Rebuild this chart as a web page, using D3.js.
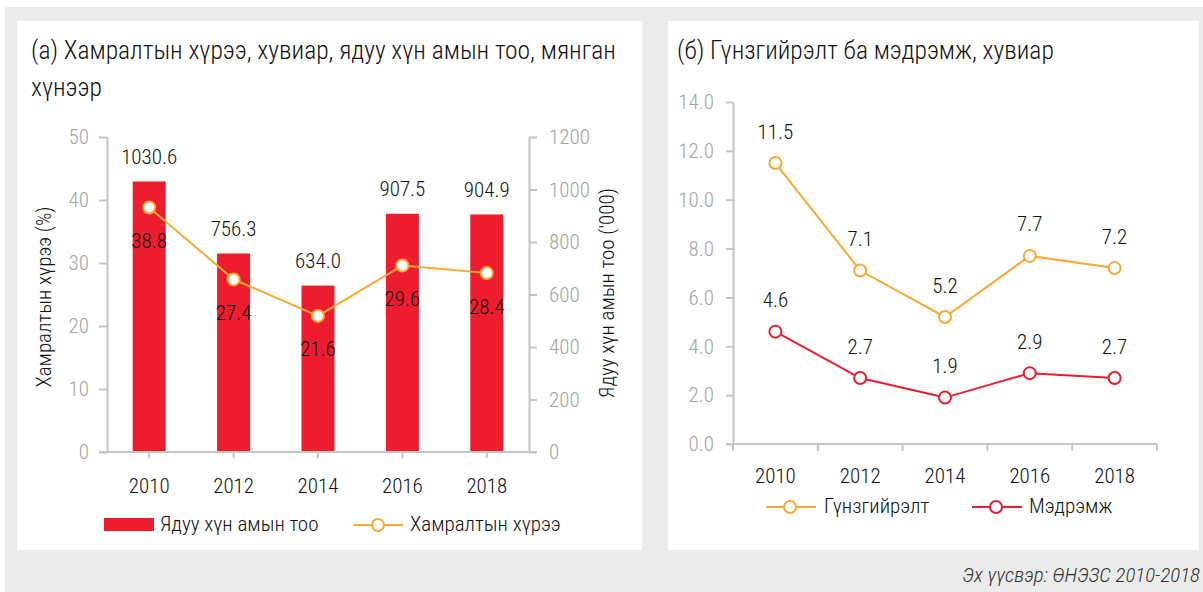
<!DOCTYPE html>
<html>
<head>
<meta charset="utf-8">
<script src="https://cdn.jsdelivr.net/npm/d3@7"></script>
<style>
    body { margin: 0; background: #fff; }
    svg { display: block; }
    text { font-family: "Roboto", sans-serif; font-stretch: 75%; font-weight: 300; }
</style>
</head>
<body>
<div id="chart"></div>
<script>
const [WIDTH, HEIGHT] = [1203, 592];

const years = ['2010', '2012', '2014', '2016', '2018'];
const poorPopulation = [1030.6, 756.3, 634.0, 907.5, 904.9];   // мянган хүн
const povertyRate = [38.8, 27.4, 21.6, 29.6, 28.4];           // %
const povertyGap = [11.5, 7.1, 5.2, 7.7, 7.2];                // гүнзгийрэлт
const povertySeverity = [4.6, 2.7, 1.9, 2.9, 2.7];            // мэдрэмж
const rateTicks = [0, 10, 20, 30, 40, 50];
const popTicks = [0, 200, 400, 600, 800, 1000, 1200];
const gapTicks = [0, 2, 4, 6, 8, 10, 12, 14];

const COLORS = {
    bar: '#ed1c2e',
    orange: '#f8a935',
    red: '#ea1d2c',
    axis: '#c4c4c4',
    tickText: '#a3a3a3',
    text: '#111',
    panelBg: '#ebebeb',
}

const TITLE_SIZE = 25.5;
const LABEL_SIZE = 21;

const fmt = d3.format('.1f');

const svg = d3.select('#chart').append('svg')
    .attr('width', WIDTH)
    .attr('height', HEIGHT)

// background and panels
svg.append('rect').attr('x', 5).attr('y', 7).attr('width', WIDTH - 5).attr('height', HEIGHT - 7)
    .attr('fill', COLORS.panelBg)
svg.append('rect').attr('x', 17).attr('y', 21).attr('width', 625).attr('height', 529).attr('fill', '#fff')
svg.append('rect').attr('x', 668).attr('y', 21).attr('width', 531).attr('height', 529).attr('fill', '#fff')

function styleAxis(g) {
    g.selectAll('path.domain').attr('stroke', COLORS.axis).attr('stroke-width', 2)
    g.selectAll('.tick line').attr('stroke', COLORS.axis).attr('stroke-width', 2)
    g.selectAll('.tick text').attr('fill', COLORS.tickText).attr('font-size', LABEL_SIZE)
    g.attr('font-family', null).attr('font-size', null)
}

function marker(g, x, y, color) {
    g.append('circle')
        .attr('cx', x).attr('cy', y).attr('r', 6)
        .attr('fill', '#fff')
        .attr('stroke', color)
        .attr('stroke-width', 2)
}

function label(g, x, y, txt, size, anchor) {
    return g.append('text')
        .attr('x', x).attr('y', y)
        .attr('text-anchor', anchor || 'start')
        .attr('dominant-baseline', 'middle')
        .attr('font-size', size || LABEL_SIZE)
        .attr('fill', COLORS.text)
        .text(txt)
}

// ---------- (a) left chart ----------
const left = svg.append('g');

label(left, 31, 52, '(а) Хамралтын хүрээ, хувиар, ядуу хүн амын тоо, мянган', TITLE_SIZE)
label(left, 31, 89, 'хүнээр', TITLE_SIZE)

const xA = d3.scaleBand().domain(years).range([107, 529]);
const yRate = d3.scaleLinear().domain([0, 50]).range([452, 137]);
const yPop = d3.scaleLinear().domain([0, 1200]).range([452, 137]);
const barW = 33;

// bars
left.selectAll('.bar')
    .data(years)
    .enter()
    .append('rect')
    .attr('class', 'bar')
    .attr('x', (d) => xA(d) + xA.bandwidth() / 2 - barW / 2)
    .attr('y', (d, i) => yPop(poorPopulation[i]))
    .attr('width', barW)
    .attr('height', (d, i) => yPop(0) - yPop(poorPopulation[i]))
    .attr('fill', COLORS.bar)

poorPopulation.forEach((v, i) => {
    label(left, xA(years[i]) + xA.bandwidth() / 2, yPop(v) - 23, fmt(v), LABEL_SIZE, 'middle')
})

// axes
left.append('g')
    .attr('transform', 'translate(107,0)')
    .call(d3.axisLeft(yRate).tickValues(rateTicks).tickSize(8).tickPadding(10).tickSizeOuter(0))
    .call(styleAxis)

left.append('g')
    .attr('transform', 'translate(529,0)')
    .call(d3.axisRight(yPop).tickValues(popTicks).tickFormat(d3.format('d'))
        .tickSize(8).tickPadding(12).tickSizeOuter(0))
    .call(styleAxis)

const xAxisA = left.append('g')
    .attr('transform', 'translate(0,452)')
    .call(d3.axisBottom(xA).tickSize(6).tickPadding(20).tickSizeOuter(0))
    .call(styleAxis)
xAxisA.select('path.domain').remove()
xAxisA.selectAll('.tick text').attr('fill', COLORS.text)
xAxisA.append('line')
    .attr('x1', xA.range()[0] - 8).attr('x2', xA.range()[1] + 8)
    .attr('stroke', COLORS.axis).attr('stroke-width', 2)

// poverty rate line
const lineA = d3.line()
    .x((d, i) => xA(years[i]) + xA.bandwidth() / 2)
    .y((d) => yRate(d))

left.append('path')
    .datum(povertyRate)
    .attr('d', lineA)
    .attr('fill', 'none')
    .attr('stroke', COLORS.orange)
    .attr('stroke-width', 2)

povertyRate.forEach((v, i) => {
    const cx = xA(years[i]) + xA.bandwidth() / 2;
    marker(left, cx, yRate(v), COLORS.orange);
    label(left, cx, yRate(v) + 35, fmt(v), LABEL_SIZE, 'middle')
})

// axis titles
label(left, 0, 0, 'Хамралтын хүрээ (%)', LABEL_SIZE, 'middle')
    .attr('transform', 'translate(45,297) rotate(-90)')
label(left, 0, 0, "Ядуу хүн амын тоо ('000)", LABEL_SIZE, 'middle')
    .attr('transform', 'translate(608,293) rotate(-90)')

// legend
left.append('rect').attr('x', 104).attr('y', 518).attr('width', 50).attr('height', 13).attr('fill', COLORS.bar)
label(left, 160, 525, 'Ядуу хүн амын тоо')
left.append('line').attr('x1', 354).attr('x2', 403).attr('y1', 525).attr('y2', 525)
    .attr('stroke', COLORS.orange).attr('stroke-width', 2)
marker(left, 378, 525, COLORS.orange)
label(left, 410, 525, 'Хамралтын хүрээ')

// ---------- (б) right chart ----------
const right = svg.append('g');

label(right, 677, 52, '(б) Гүнзгийрэлт ба мэдрэмж, хувиар', TITLE_SIZE)

const xB = d3.scaleBand().domain(years).range([733, 1157]);
const yB = d3.scaleLinear().domain([0, 14]).range([444, 102]);

right.append('g')
    .attr('transform', 'translate(733,0)')
    .call(d3.axisLeft(yB).tickValues(gapTicks).tickFormat(d3.format('.1f'))
        .tickSize(7).tickPadding(12).tickSizeOuter(0))
    .call(styleAxis)

const xAxisB = right.append('g')
    .attr('transform', 'translate(0,444)')
    .call(d3.axisBottom(xB).tickSize(0).tickPadding(24))
    .call(styleAxis)
xAxisB.select('path.domain').remove()
xAxisB.selectAll('.tick text').attr('fill', COLORS.text)
xAxisB.append('line')
    .attr('x1', xB.range()[0] - 7).attr('x2', xB.range()[1])
    .attr('stroke', COLORS.axis).attr('stroke-width', 2)
xAxisB.selectAll('.edge-tick')
    .data(years.map((d) => xB(d)).concat([xB.range()[1]]))
    .enter()
    .append('line')
    .attr('x1', (d) => d).attr('x2', (d) => d)
    .attr('y1', 0).attr('y2', 7)
    .attr('stroke', COLORS.axis).attr('stroke-width', 2)

const lineB = d3.line()
    .x((d, i) => xB(years[i]) + xB.bandwidth() / 2)
    .y((d) => yB(d))

function drawSeries(values, color) {
    right.append('path')
        .datum(values)
        .attr('d', lineB)
        .attr('fill', 'none')
        .attr('stroke', color)
        .attr('stroke-width', 2)
    values.forEach((v, i) => {
        const cx = xB(years[i]) + xB.bandwidth() / 2;
        marker(right, cx, yB(v), color);
        label(right, cx, yB(v) - 30, fmt(v), LABEL_SIZE, 'middle')
    })
}

drawSeries(povertyGap, COLORS.orange);
drawSeries(povertySeverity, COLORS.red);

// legend
right.append('line').attr('x1', 766).attr('x2', 816).attr('y1', 507).attr('y2', 507)
    .attr('stroke', COLORS.orange).attr('stroke-width', 2)
marker(right, 790, 507, COLORS.orange)
label(right, 824, 507, 'Гүнзгийрэлт')
right.append('line').attr('x1', 972).attr('x2', 1022).attr('y1', 507).attr('y2', 507)
    .attr('stroke', COLORS.red).attr('stroke-width', 2)
marker(right, 996, 507, COLORS.red)
label(right, 1029, 507, 'Мэдрэмж')

// source
label(svg, 1200, 576, 'Эх үүсвэр: ӨНЭЗС 2010-2018', LABEL_SIZE, 'end')
    .attr('font-style', 'italic').attr('fill', '#333')
</script>
</body>
</html>
